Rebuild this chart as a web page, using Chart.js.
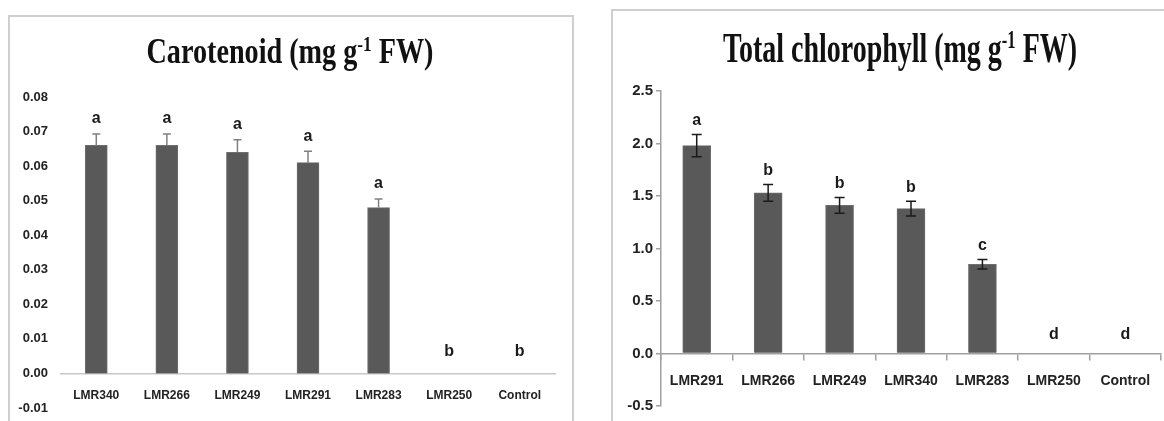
<!DOCTYPE html>
<html>
<head>
<meta charset="utf-8">
<script src="https://cdn.jsdelivr.net/npm/chart.js@4.4.0/dist/chart.umd.min.js"></script>
<style>
  body { margin: 0; background: #fff; width: 1164px; height: 421px; overflow: hidden; position: relative; }
  .frame { position: absolute; border: 2px solid #cfcfcf; }
  #frameL { left: 8px; top: 15px; width: 562px; height: 440px; }
  #frameR { left: 611px; top: 9px; width: 600px; height: 440px; }
  .box { position: absolute; top: 0; height: 421px; }
  #boxL { left: 0; width: 600px; }
  #boxR { left: 600px; width: 564px; }
</style>
</head>
<body>
<div class="frame" id="frameL"></div>
<div class="frame" id="frameR"></div>
<div class="box" id="boxL"><canvas id="carotenoidChart"></canvas></div>
<div class="box" id="boxR"><canvas id="chlorophyllChart"></canvas></div>
<script>
// carotenoid panel
var carotenoidLabels = ['LMR340', 'LMR266', 'LMR249', 'LMR291', 'LMR283', 'LMR250', 'Control'];
var carotenoidMeans = [0.066, 0.066, 0.064, 0.061, 0.048, 0, 0];
var carotenoidErrors = [0.0033, 0.0033, 0.0036, 0.0033, 0.0025, 0, 0];
var carotenoidLetters = ['a', 'a', 'a', 'a', 'a', 'b', 'b'];

// total chlorophyll panel
var chlorophyllLabels = ['LMR291', 'LMR266', 'LMR249', 'LMR340', 'LMR283', 'LMR250', 'Control'];
var chlorophyllMeans = [1.98, 1.53, 1.41, 1.38, 0.85, 0, 0];
var chlorophyllErrors = [0.105, 0.08, 0.075, 0.07, 0.045, 0, 0];
var chlorophyllLetters = ['a', 'b', 'b', 'b', 'c', 'd', 'd'];

var sansFont = '"Liberation Sans", Arial, sans-serif';
var serifFont = '"Liberation Serif", "Times New Roman", serif';

// title drawn narrower than the font, like the original picture
const squeezedTitle = {
    id: 'squeezedTitle',
    afterDraw(chart, args, o) {
        const ctx = chart.ctx;
        const big = 'bold ' + o.size + 'px ' + serifFont;
        const small = 'bold ' + Math.round(o.size * 0.6) + 'px ' + serifFont;
        ctx.save();
        ctx.font = big;
        const w1 = ctx.measureText(o.text[0]).width;
        const w3 = ctx.measureText(o.text[2]).width;
        ctx.font = small;
        const w2 = ctx.measureText(o.text[1]).width;
        const sx = o.width / (w1 + w2 + w3);
        ctx.translate(o.x - o.width / 2, o.y);
        ctx.scale(sx, 1);
        ctx.fillStyle = '#111';
        ctx.textAlign = 'left';
        ctx.textBaseline = 'alphabetic';
        ctx.font = big;
        ctx.fillText(o.text[0], 0, 0);
        ctx.font = small;
        ctx.fillText(o.text[1], w1, -o.size * 0.33);
        ctx.font = big;
        ctx.fillText(o.text[2], w1 + w2, 0);
        ctx.restore();
    }
};

const errorBars = {
    id: 'errorBars',
    afterDatasetsDraw(chart, args, o) {
        const ctx = chart.ctx;
        const y = chart.scales.y;
        const meta = chart.getDatasetMeta(0);
        ctx.save();
        ctx.strokeStyle = o.color;
        ctx.lineWidth = o.lineWidth;
        meta.data.forEach((bar, i) => {
            const v = o.means[i];
            const e = o.errors[i];
            const top = y.getPixelForValue(v + e);
            if (e > 0) {
                const bottom = o.both ? y.getPixelForValue(v - e) : y.getPixelForValue(v);
                ctx.beginPath();
                ctx.moveTo(bar.x, top);
                ctx.lineTo(bar.x, bottom);
                ctx.moveTo(bar.x - o.cap, top);
                ctx.lineTo(bar.x + o.cap, top);
                if (o.both) {
                    ctx.moveTo(bar.x - o.cap, bottom);
                    ctx.lineTo(bar.x + o.cap, bottom);
                }
                ctx.stroke();
            }
            ctx.fillStyle = '#1a1a1a';
            ctx.font = 'bold 16px ' + sansFont;
            ctx.textAlign = 'center';
            ctx.textBaseline = 'middle';
            const gap = v === 0 ? o.zeroGap : o.gap;
            ctx.fillText(o.letters[i], bar.x, top - gap);
        });
        ctx.restore();
    }
};

var carotenoidChart = new Chart(document.getElementById('carotenoidChart'), {
    type: 'bar',
    data: {
        labels: carotenoidLabels,
        datasets: [{
            data: carotenoidMeans,
            backgroundColor: '#595959',
            borderColor: '#6e6e6e',
            borderWidth: 1,
            barThickness: 22
        }]
    },
    options: {
        responsive: true,
        maintainAspectRatio: false,
        animation: false,
        layout: { padding: { top: 97, bottom: 13, left: 0, right: 45 } },
        plugins: {
            legend: { display: false },
            tooltip: { enabled: false },
            squeezedTitle: { text: ['Carotenoid (mg g', '-1', ' FW)'], size: 36, x: 290, y: 63, width: 287 },
            errorBars: { means: carotenoidMeans, errors: carotenoidErrors, letters: carotenoidLetters,
                both: false, color: '#808080', lineWidth: 1.5, cap: 4, gap: 15, zeroGap: 22 }
        },
        scales: {
            x: {
                position: { y: 0 },
                grid: { display: false, drawTicks: true, tickLength: 15 },
                border: { display: true, color: '#c8c8c8', width: 1.5 },
                ticks: { padding: 0, color: '#222', font: { family: sansFont, size: 12, weight: 'bold' } }
            },
            y: {
                min: -0.01,
                max: 0.08,
                grid: { display: false, drawTicks: true, tickLength: 10 },
                border: { display: false },
                ticks: {
                    stepSize: 0.01,
                    padding: 3,
                    color: '#222',
                    font: { family: sansFont, size: 13, weight: 'bold' },
                    callback: v => (Math.abs(v) < 1e-9 ? 0 : v).toFixed(2)
                },
                afterFit: s => { s.width = 61; }
            }
        }
    },
    plugins: [squeezedTitle, errorBars]
});

var chlorophyllChart = new Chart(document.getElementById('chlorophyllChart'), {
    type: 'bar',
    data: {
        labels: chlorophyllLabels,
        datasets: [{
            data: chlorophyllMeans,
            backgroundColor: '#595959',
            borderColor: '#6e6e6e',
            borderWidth: 1,
            barThickness: 28
        }]
    },
    options: {
        responsive: true,
        maintainAspectRatio: false,
        animation: false,
        layout: { padding: { top: 91, bottom: 15, left: 0, right: 3 } },
        plugins: {
            legend: { display: false },
            tooltip: { enabled: false },
            squeezedTitle: { text: ['Total chlorophyll (mg g', '-1', ' FW)'], size: 42, x: 300, y: 62, width: 354 },
            errorBars: { means: chlorophyllMeans, errors: chlorophyllErrors, letters: chlorophyllLetters,
                both: true, color: '#1a1a1a', lineWidth: 1.5, cap: 5, gap: 14, zeroGap: 19 }
        },
        scales: {
            x: {
                position: { y: 0 },
                grid: { drawOnChartArea: false, drawTicks: true, tickLength: 6, color: '#a0a0a0', lineWidth: 1.5 },
                border: { display: true, color: '#a0a0a0', width: 1.5 },
                ticks: { padding: 13, color: '#222', font: { family: sansFont, size: 14, weight: 'bold' } }
            },
            y: {
                min: -0.5,
                max: 2.5,
                grid: { drawOnChartArea: false, drawTicks: true, tickLength: 5, color: '#a0a0a0', lineWidth: 1.5 },
                border: { display: true, color: '#a0a0a0', width: 1.5 },
                ticks: {
                    stepSize: 0.5,
                    padding: 3,
                    color: '#222',
                    font: { family: sansFont, size: 15, weight: 'bold' },
                    callback: v => (Math.abs(v) < 1e-9 ? 0 : v).toFixed(1)
                },
                afterFit: s => { s.width = 61; }
            }
        }
    },
    plugins: [squeezedTitle, errorBars]
});
</script>
</body>
</html>
